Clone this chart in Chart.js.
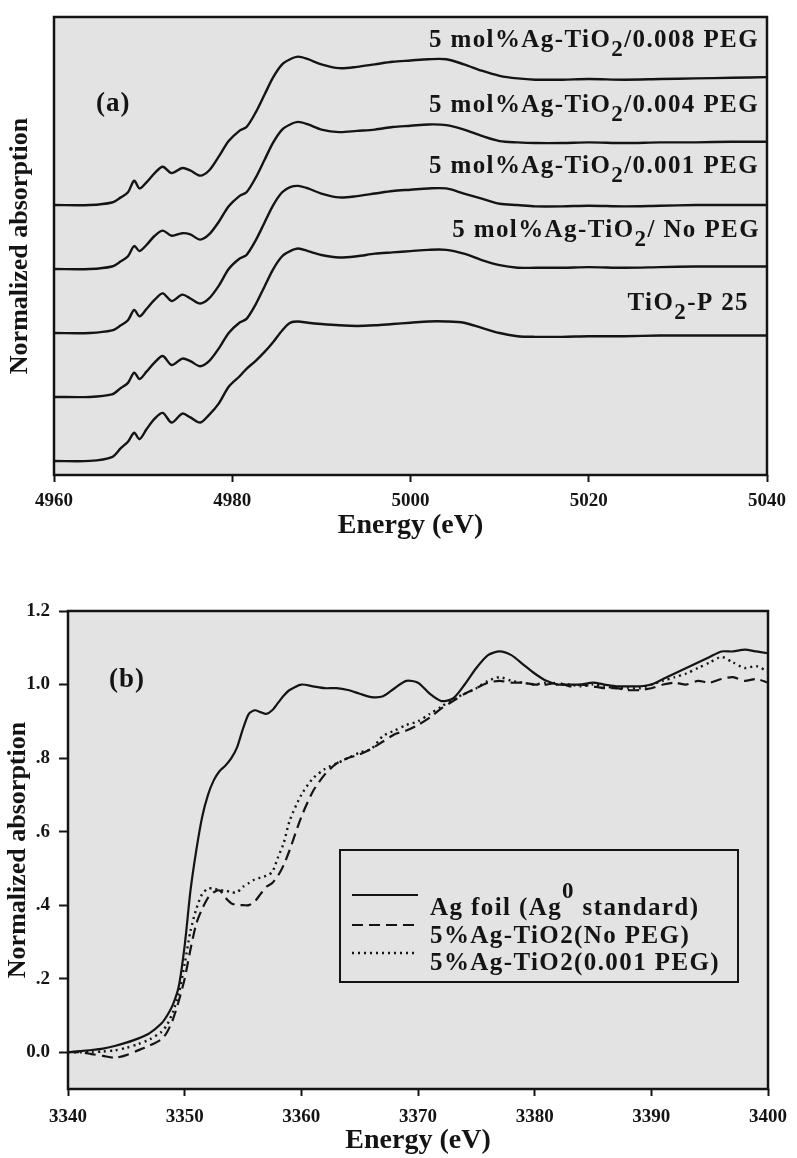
<!DOCTYPE html>
<html>
<head>
<meta charset="utf-8">
<script src="https://cdn.jsdelivr.net/npm/chart.js@4.4.0/dist/chart.umd.min.js"></script>
<style>
  body { margin: 0; background: #ffffff; }
  #wrap { position: relative; width: 797px; height: 1158px; overflow: hidden; }
  #chartA { position: absolute; left: 0; top: 0; }
  #chartB { position: absolute; left: 0; top: 580px; }
</style>
</head>
<body>
<div id="wrap">
  <canvas id="chartA" width="797" height="545"></canvas>
  <canvas id="chartB" width="797" height="578"></canvas>
</div>
<script>
// ---- panel (a): Ti K-edge XANES, stacked ----
const energyA = [4960, 4964, 4966.5, 4967.5, 4968.3, 4969.0, 4969.6, 4970.4, 4971.3, 4972.2, 4973.2, 4974.4,
  4975.3, 4976.4, 4977.4, 4978.5, 4979.6, 4980.8, 4981.6, 4982.6, 4983.6, 4984.6, 4985.6, 4986.5, 4987.4,
  4988.5, 4990, 4992, 4994, 4996, 4998, 5000, 5002, 5004, 5006, 5008, 5010, 5012, 5014, 5017, 5020, 5024,
  5028, 5032, 5036, 5040];
const peg008 = [0, 0, 0.02, 0.06, 0.10, 0.19, 0.13, 0.18, 0.25, 0.30, 0.25, 0.29, 0.27, 0.23, 0.27, 0.38,
  0.50, 0.58, 0.61, 0.72, 0.86, 1.00, 1.10, 1.14, 1.16, 1.14, 1.10, 1.07, 1.08, 1.10, 1.12, 1.13, 1.14, 1.14,
  1.10, 1.05, 1.01, 0.99, 0.98, 0.98, 0.985, 0.98, 0.985, 0.99, 0.995, 1.0];
const peg004 = [0, 0, 0.02, 0.06, 0.10, 0.18, 0.14, 0.19, 0.26, 0.30, 0.26, 0.28, 0.27, 0.23, 0.27, 0.37,
  0.49, 0.57, 0.60, 0.71, 0.85, 0.99, 1.09, 1.13, 1.15, 1.13, 1.09, 1.07, 1.08, 1.09, 1.11, 1.12, 1.13, 1.125,
  1.09, 1.04, 1.0, 0.99, 0.985, 0.985, 0.99, 0.985, 0.99, 0.99, 0.995, 0.995];
const peg001 = [0, 0, 0.02, 0.06, 0.10, 0.18, 0.13, 0.19, 0.26, 0.31, 0.25, 0.30, 0.27, 0.23, 0.27, 0.37,
  0.50, 0.58, 0.61, 0.72, 0.86, 1.00, 1.10, 1.14, 1.15, 1.13, 1.09, 1.06, 1.07, 1.09, 1.11, 1.12, 1.13, 1.13,
  1.09, 1.05, 1.01, 1.0, 0.99, 0.99, 0.995, 0.99, 0.995, 1.0, 1.0, 1.0];
const noPeg = [0, 0, 0.02, 0.07, 0.11, 0.19, 0.14, 0.20, 0.27, 0.32, 0.25, 0.30, 0.28, 0.24, 0.28, 0.38,
  0.50, 0.58, 0.61, 0.72, 0.86, 1.00, 1.10, 1.14, 1.16, 1.14, 1.11, 1.09, 1.10, 1.12, 1.13, 1.14, 1.15, 1.15,
  1.12, 1.07, 1.03, 1.01, 1.01, 1.01, 1.015, 1.01, 1.015, 1.02, 1.02, 1.02];
const p25 = [0, 0, 0.03, 0.10, 0.15, 0.22, 0.17, 0.25, 0.33, 0.375, 0.30, 0.37, 0.34, 0.30, 0.36, 0.45,
  0.58, 0.66, 0.72, 0.78, 0.85, 0.93, 1.02, 1.08, 1.09, 1.08, 1.07, 1.06, 1.055, 1.06, 1.07, 1.08, 1.09, 1.09,
  1.08, 1.04, 1.0, 0.975, 0.97, 0.97, 0.975, 0.975, 0.98, 0.98, 0.98, 0.98];
const seriesA = [peg008, peg004, peg001, noPeg, p25];
const namesA = ['5 mol%Ag-TiO_2/0.008 PEG', '5 mol%Ag-TiO_2/0.004 PEG', '5 mol%Ag-TiO_2/0.001 PEG',
  '5 mol%Ag-TiO_2/ No PEG', 'TiO_2-P 25'];
const offsetsA = [2.0, 1.5, 1.0, 0.5, 0.0];
const xTicksA = [4960, 4980, 5000, 5020, 5040];

// ---- panel (b): Ag L3-edge XANES ----
const energyB = [3340, 3341, 3342, 3343, 3344, 3345, 3346, 3347, 3348, 3348.5, 3349, 3349.5, 3350, 3350.5,
  3351, 3351.5, 3352, 3352.5, 3353, 3353.5, 3354, 3354.5, 3355, 3355.5, 3356, 3356.5, 3357, 3357.5, 3358,
  3358.5, 3359, 3360, 3361, 3362, 3363, 3364, 3365, 3366, 3367, 3368, 3369, 3370, 3371, 3372, 3373, 3374,
  3375, 3376, 3377, 3378, 3379, 3380, 3381, 3382, 3383, 3384, 3385, 3386, 3387, 3388, 3389, 3390, 3391,
  3392, 3393, 3394, 3395, 3396, 3397, 3398, 3399, 3400];
const agFoil = [0, 0.003, 0.006, 0.01, 0.017, 0.026, 0.037, 0.052, 0.078, 0.10, 0.13, 0.18, 0.29, 0.44,
  0.55, 0.64, 0.70, 0.74, 0.765, 0.78, 0.80, 0.83, 0.88, 0.92, 0.93, 0.925, 0.92, 0.93, 0.95,
  0.97, 0.985, 1.0, 0.995, 0.99, 0.99, 0.985, 0.975, 0.966, 0.968, 0.99, 1.01, 1.005, 0.975, 0.955, 0.962, 1.0,
  1.045, 1.08, 1.09, 1.08, 1.055, 1.03, 1.01, 1.0, 1.0, 1.0, 1.005, 1.0, 0.995, 0.995, 0.995, 1.0, 1.015,
  1.03, 1.045, 1.06, 1.075, 1.09, 1.09, 1.095, 1.09, 1.085];
const agTiO2NoPeg = [0, 0, -0.005, -0.01, -0.015, -0.008, 0.005, 0.018, 0.035, 0.055, 0.09, 0.14, 0.20, 0.28,
  0.35, 0.39, 0.42, 0.435, 0.44, 0.42, 0.405, 0.40, 0.40, 0.40, 0.41, 0.43, 0.45, 0.46, 0.48,
  0.51, 0.55, 0.64, 0.71, 0.755, 0.785, 0.80, 0.81, 0.825, 0.845, 0.865, 0.875, 0.89, 0.91, 0.935, 0.955, 0.975,
  0.99, 1.005, 1.01, 1.005, 1.005, 1.0, 1.0, 1.005, 0.995, 1.0, 0.995, 0.99, 0.99, 0.985, 0.985, 0.99, 1.0,
  1.005, 1.0, 1.01, 1.005, 1.015, 1.02, 1.01, 1.015, 1.005];
const agTiO2Peg001 = [0, 0, 0, 0.002, 0.005, 0.012, 0.022, 0.035, 0.055, 0.075, 0.11, 0.16, 0.24, 0.33,
  0.39, 0.43, 0.445, 0.445, 0.44, 0.44, 0.435, 0.435, 0.45, 0.46, 0.47, 0.475, 0.48, 0.49, 0.53,
  0.57, 0.63, 0.70, 0.745, 0.77, 0.785, 0.80, 0.815, 0.825, 0.86, 0.875, 0.89, 0.90, 0.92, 0.94, 0.96, 0.975,
  0.99, 1.01, 1.02, 1.01, 1.005, 1.0, 1.005, 1.0, 1.0, 0.995, 1.0, 0.995, 0.99, 0.99, 0.99, 1.0, 1.01,
  1.02, 1.03, 1.045, 1.06, 1.075, 1.06, 1.045, 1.05, 1.035];
const namesB = ['Ag foil (Ag^0 standard)', '5%Ag-TiO2(No PEG)', '5%Ag-TiO2(0.001 PEG)'];
const xTicksB = [3340, 3350, 3360, 3370, 3380, 3390, 3400];
const yTicksB = [0, 0.2, 0.4, 0.6, 0.8, 1.0, 1.2];
const yTickLabelsB = ['0.0', '.2', '.4', '.6', '.8', '1.0', '1.2'];

const FONT = '"Liberation Serif", "Times New Roman", serif';
const INK = '#141414';
Chart.defaults.font.family = FONT;
Chart.defaults.font.weight = 'bold';
Chart.defaults.color = INK;

function toPoints(xs, ys, offset = 0) {
  return xs.map((x, i) => ({ x: x, y: ys[i] + offset }));
}

// split "TiO_2" / "Ag^0" into normal, subscript and superscript runs
function richParts(text) {
  return text.split(/([_^]\w)/).filter(s => s).map(s =>
    (s.length === 2 && (s[0] === '_' || s[0] === '^')) ? { t: s[1], mode: s[0] } : { t: s, mode: '' });
}

function drawRich(ctx, text, x, y, size, align) {
  const parts = richParts(text);
  const normal = `bold ${size}px ${FONT}`;
  const small = `bold ${Math.round(size * 0.92)}px ${FONT}`;
  let total = 0;
  parts.forEach(p => {
    ctx.font = p.mode ? small : normal;
    p.w = ctx.measureText(p.t).width;
    total += p.w;
  });
  let cx = align === 'right' ? x - total : x;
  parts.forEach(p => {
    ctx.font = p.mode ? small : normal;
    const dy = p.mode === '_' ? size * 0.36 : (p.mode === '^' ? -size * 0.68 : 0);
    ctx.fillText(p.t, cx, y + dy);
    cx += p.w;
  });
}

// plot background, frame, panel tag, curve labels and the boxed legend
const panelDecor = {
  id: 'panelDecor',
  beforeDraw(chart, args, opts) {
    const { ctx, chartArea: a } = chart;
    ctx.save();
    ctx.fillStyle = opts.background;
    ctx.fillRect(a.left, a.top, a.right - a.left, a.bottom - a.top);
    ctx.restore();
  },
  afterDraw(chart, args, opts) {
    const { ctx, chartArea: a } = chart;
    ctx.save();
    ctx.strokeStyle = INK;
    ctx.lineWidth = 2.5;
    ctx.setLineDash([]);
    ctx.strokeRect(a.left, a.top, a.right - a.left, a.bottom - a.top);

    ctx.fillStyle = INK;
    ctx.textBaseline = 'alphabetic';
    ctx.letterSpacing = '1px';
    if (opts.tag) {
      ctx.font = `bold 27px ${FONT}`;
      ctx.fillText(opts.tag.text, opts.tag.x, opts.tag.y);
    }
    ctx.letterSpacing = '1.4px';
    (opts.labels || []).forEach(l => drawRich(ctx, l.text, l.x, l.y, 25, 'right'));

    if (opts.legend) {
      const L = opts.legend;
      ctx.fillStyle = opts.background;
      ctx.fillRect(L.left, L.top, L.right - L.left, L.bottom - L.top);
      ctx.lineWidth = 2;
      ctx.strokeRect(L.left, L.top, L.right - L.left, L.bottom - L.top);
      chart.data.datasets.forEach((ds, i) => {
        const ly = L.rows[i];
        ctx.strokeStyle = ds.borderColor;
        ctx.lineWidth = ds.borderWidth;
        ctx.setLineDash(ds.borderDash || []);
        ctx.beginPath();
        ctx.moveTo(L.lineFrom, ly);
        ctx.lineTo(L.lineTo, ly);
        ctx.stroke();
        ctx.setLineDash([]);
        ctx.fillStyle = INK;
        drawRich(ctx, ds.label, L.textX, L.baselines[i], 25, 'left');
      });
    }
    ctx.restore();
  }
};

function fixedTicks(values) {
  return scale => { scale.ticks = values.map(v => ({ value: v })); };
}

const tickGrid = { drawOnChartArea: false, drawTicks: true, tickLength: 7, tickWidth: 2, tickColor: INK };
const plainNumber = v => String(v);

// ---- chart (a) ----
new Chart(document.getElementById('chartA'), {
  type: 'line',
  data: {
    datasets: seriesA.map((s, i) => ({
      label: namesA[i],
      data: toPoints(energyA, s, offsetsA[i]),
      borderColor: INK,
      borderWidth: 2.4,
      pointRadius: 0,
      tension: 0.3
    }))
  },
  options: {
    responsive: false,
    animation: false,
    layout: { padding: { top: 17, right: 30, left: 0, bottom: 0 } },
    plugins: {
      legend: { display: false },
      tooltip: { enabled: false },
      panelDecor: {
        background: '#e3e3e3',
        tag: { text: '(a)', x: 96, y: 111 },
        labels: [
          { text: namesA[0], x: 759, y: 47 },
          { text: namesA[1], x: 759, y: 112 },
          { text: namesA[2], x: 759, y: 173 },
          { text: namesA[3], x: 760, y: 237 },
          { text: namesA[4], x: 749, y: 310 }
        ]
      }
    },
    scales: {
      x: {
        type: 'linear', min: 4960, max: 5040,
        afterBuildTicks: fixedTicks(xTicksA),
        afterFit: s => { s.height = 70; },
        grid: tickGrid,
        border: { display: false },
        ticks: { font: { size: 19, weight: 'bold' }, padding: 8, maxRotation: 0, color: INK, callback: plainNumber },
        title: { display: true, text: 'Energy (eV)', color: INK, font: { size: 28, weight: 'bold' }, padding: { top: 0, bottom: 2 } }
      },
      y: {
        min: -0.11, max: 3.47,
        afterFit: s => { s.width = 54; },
        grid: { display: false },
        border: { display: false },
        ticks: { display: false },
        title: { display: true, text: 'Normalized absorption', color: INK, font: { size: 26, weight: 'bold' }, padding: { top: 5, bottom: 0 } }
      }
    }
  },
  plugins: [panelDecor]
});

// ---- chart (b) ----
const stylesB = [
  { borderDash: [], borderWidth: 2.2 },
  { borderDash: [11, 6], borderWidth: 2.2 },
  { borderDash: [2, 4], borderWidth: 2.4 }
];
new Chart(document.getElementById('chartB'), {
  type: 'line',
  data: {
    datasets: [agFoil, agTiO2NoPeg, agTiO2Peg001].map((s, i) => ({
      label: namesB[i],
      data: toPoints(energyB, s),
      borderColor: INK,
      borderWidth: stylesB[i].borderWidth,
      borderDash: stylesB[i].borderDash,
      pointRadius: 0,
      tension: 0.25
    }))
  },
  options: {
    responsive: false,
    animation: false,
    layout: { padding: { top: 31, right: 20, left: 0, bottom: 0 } },
    plugins: {
      legend: { display: false },
      tooltip: { enabled: false },
      panelDecor: {
        background: '#e3e3e3',
        tag: { text: '(b)', x: 109, y: 107 },
        legend: {
          left: 340, top: 270, right: 738, bottom: 402,
          lineFrom: 352, lineTo: 418, textX: 430,
          rows: [315, 345, 373],
          baselines: [335, 363, 390]
        }
      }
    },
    scales: {
      x: {
        type: 'linear', min: 3340, max: 3400,
        afterBuildTicks: fixedTicks(xTicksB),
        afterFit: s => { s.height = 69; },
        grid: tickGrid,
        border: { display: false },
        ticks: { font: { size: 19, weight: 'bold' }, padding: 10, maxRotation: 0, color: INK, callback: plainNumber },
        title: { display: true, text: 'Energy (eV)', color: INK, font: { size: 28, weight: 'bold' }, padding: { top: 0, bottom: 0 } }
      },
      y: {
        min: -0.1, max: 1.2,
        afterBuildTicks: fixedTicks(yTicksB),
        afterFit: s => { s.width = 68; },
        grid: Object.assign({}, tickGrid, { tickLength: 9 }),
        border: { display: false },
        ticks: {
          font: { size: 19, weight: 'bold' }, padding: 9, color: INK,
          callback: v => yTickLabelsB[yTicksB.findIndex(t => Math.abs(t - v) < 1e-9)]
        },
        title: { display: true, text: 'Normalized absorption', color: INK, font: { size: 26, weight: 'bold' }, padding: { top: 3, bottom: 0 } }
      }
    }
  },
  plugins: [panelDecor]
});
</script>
</body>
</html>
